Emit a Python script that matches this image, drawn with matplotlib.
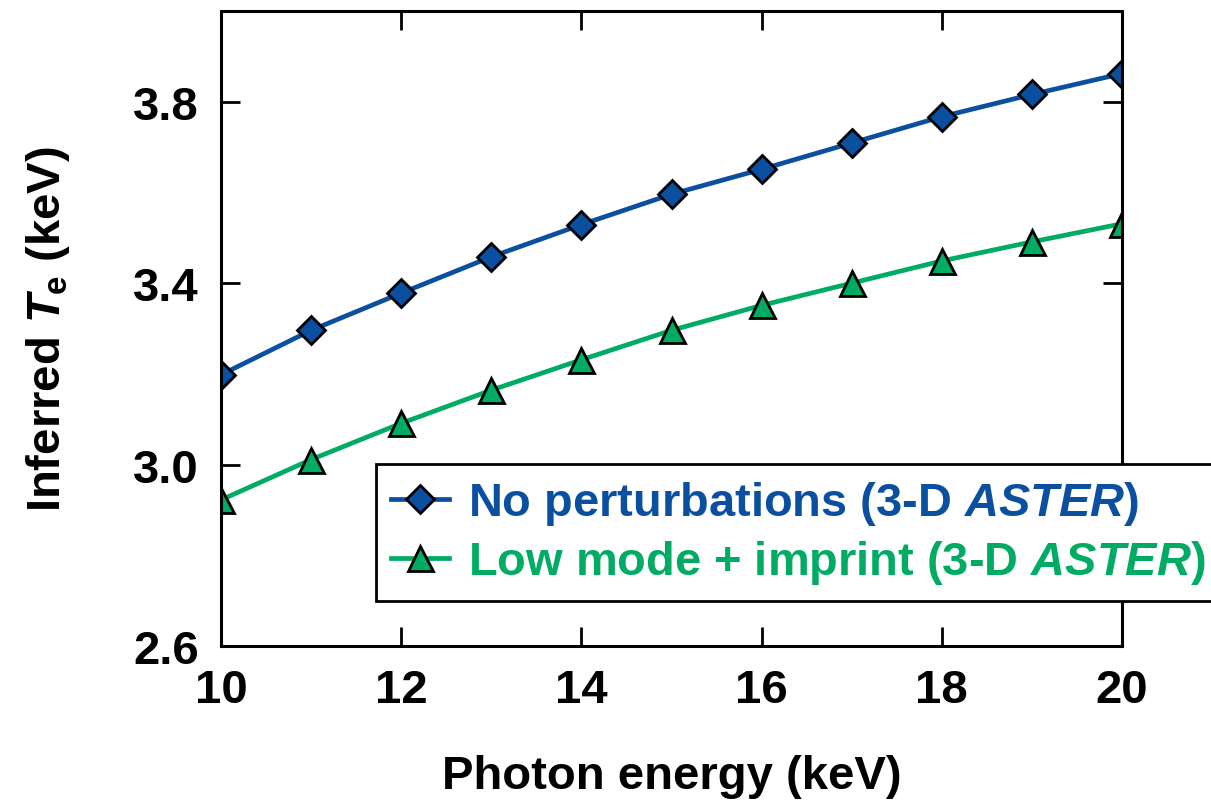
"""Inferred electron temperature versus photon energy."""

import matplotlib
matplotlib.use('Agg')
import matplotlib.pyplot as plt


photon_energy = [10, 11, 12, 13, 14, 15, 16, 17, 18, 19, 20]
te_no_perturbations = [3.198, 3.296, 3.378, 3.458, 3.529, 3.596, 3.651,
                       3.709, 3.767, 3.816, 3.862]
te_low_mode_imprint = [2.922, 3.011, 3.091, 3.164, 3.231, 3.296, 3.351,
                       3.400, 3.449, 3.491, 3.531]

x_ticks = [10, 12, 14, 16, 18, 20]
y_ticks = [2.6, 3.0, 3.4, 3.8]

label_no_pert = 'No perturbations (3-D $ASTER$)'
label_low_mode = 'Low mode + imprint (3-D $ASTER$)'

_BLUE = '#0b4fa1'
_GREEN = '#00ab63'


def _main():
    plt.rcParams['font.family'] = ['Liberation Sans', 'DejaVu Sans']
    plt.rcParams['font.weight'] = 'bold'
    plt.rcParams['axes.labelweight'] = 'bold'
    plt.rcParams['mathtext.fontset'] = 'custom'
    plt.rcParams['mathtext.it'] = 'Liberation Sans:italic:bold'
    plt.rcParams['mathtext.rm'] = 'Liberation Sans:bold'
    plt.rcParams['mathtext.bf'] = 'Liberation Sans:bold'

    fig = plt.figure(figsize=(12.11, 8.04), dpi=100)
    ax = fig.add_axes([221 / 1211, 1 - 647 / 804, 901 / 1211, 635 / 804])

    ax.plot(photon_energy, te_no_perturbations, color=_BLUE, lw=3.4,
            marker='D', ms=14, mfc=_BLUE, mec='black', mew=2,
            label=label_no_pert)
    ax.plot(photon_energy, te_low_mode_imprint, color=_GREEN, lw=3.4,
            marker='^', ms=18, mfc=_GREEN, mec='black', mew=2,
            label=label_low_mode)

    ax.set_xlim(10, 20)
    ax.set_ylim(2.6, 4.0)
    ax.set_xticks(x_ticks)
    ax.set_yticks(y_ticks)
    ax.set_yticklabels(['%.1f' % v for v in y_ticks])
    ax.tick_params(direction='in', length=14, width=2, labelsize=34,
                   pad=16, top=True, right=True)
    for spine in ax.spines.values():
        spine.set_linewidth(2.2)

    ax.set_xlabel('Photon energy (keV)', fontsize=34, fontweight='bold',
                  labelpad=30)
    ax.set_ylabel(r'Inferred $T_\mathrm{e}$ (keV)', fontsize=34,
                  fontweight='bold', labelpad=44)

    leg = ax.legend(loc='upper left', bbox_to_anchor=(0.1720, 0.2866),
                    fontsize=33.8, frameon=True, fancybox=False,
                    edgecolor='black', framealpha=1, handlelength=1.23,
                    handletextpad=0.4, borderpad=0.32, labelspacing=0.24,
                    borderaxespad=0)
    leg.get_frame().set_linewidth(2)
    for text, color in zip(leg.get_texts(), [_BLUE, _GREEN]):
        text.set_color(color)

    fig.savefig('out.png', dpi=100)


if __name__ == '__main__':
    _main()
